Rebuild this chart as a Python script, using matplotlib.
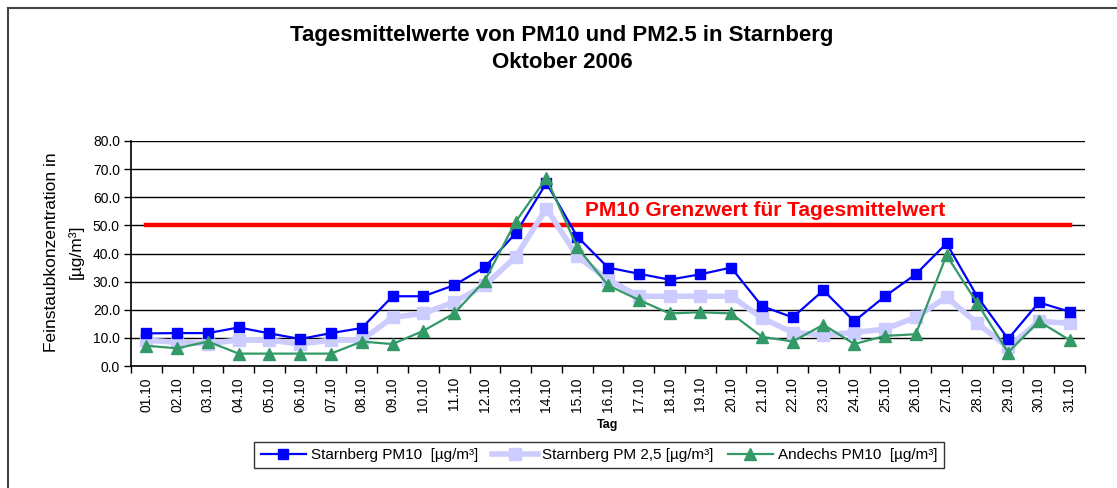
import matplotlib.pyplot as plt
from matplotlib.lines import Line2D
import numpy as np

plt.rcParams['font.family'] = ['Liberation Sans', 'DejaVu Sans']

# Daten
tage = ['%02d.10' % d for d in range(1, 32)]

starnberg_pm10 = [11.6, 11.7, 11.7, 13.7, 11.6, 9.6, 11.7, 13.5, 24.8, 24.8, 28.7,
                  35.2, 47.2, 65.1, 46.0, 35.0, 32.8, 30.7, 32.6, 35.0, 21.3, 17.3,
                  26.9, 15.9, 24.8, 32.6, 43.6, 24.7, 9.6, 22.6, 19.3]
starnberg_pm25 = [9.2, 8.4, 8.0, 9.2, 9.2, 7.8, 9.2, 9.2, 17.3, 18.7, 22.7,
                  28.7, 38.8, 56.0, 39.0, 30.7, 24.8, 24.8, 24.8, 24.8, 17.1, 11.9,
                  11.1, 11.9, 13.1, 17.3, 24.5, 15.2, 6.6, 15.9, 15.2]
andechs_pm10 = [7.2, 6.3, 8.7, 4.4, 4.4, 4.4, 4.4, 8.7, 7.8, 12.5, 18.7,
                30.4, 51.3, 66.8, 42.2, 28.7, 23.5, 18.7, 19.1, 18.7, 10.4, 8.7,
                14.7, 7.8, 10.7, 11.3, 39.4, 22.3, 4.8, 15.9, 9.2]
grenzwert = 50.0

W, H = 1117, 488
fig = plt.figure(figsize=(W / 100, H / 100), dpi=100)
ax = fig.add_axes([131 / W, 1 - 366 / H, (1085 - 131) / W, (366 - 141) / H])

x = np.arange(len(tage))

# Linien
ax.plot(x, [grenzwert] * len(tage), color='#ff0000', lw=3.2, zorder=2)
ax.plot(x, starnberg_pm25, color='#ccccff', lw=4, marker='s', ms=8,
        mfc='#ccccff', mec='#ccccff', zorder=3, label='Starnberg PM 2,5 [µg/m³]')
ax.plot(x, starnberg_pm10, color='#0000ff', lw=1.6, marker='s', ms=7,
        mfc='#0000ff', mec='#0000ff', zorder=4, label='Starnberg PM10  [µg/m³]')
ax.plot(x, andechs_pm10, color='#339966', lw=1.6, marker='^', ms=8.5,
        mfc='#339966', mec='#339966', zorder=5, label='Andechs PM10  [µg/m³]')

ax.text(14.25, 55.3, 'PM10 Grenzwert für Tagesmittelwert', color='#ff0000',
        fontsize=15, fontweight='bold', ha='left', va='center', zorder=6)

# Achsen
ax.set_xlim(-0.5, len(tage) - 0.5)
ax.set_ylim(0, 80)
ax.set_yticks(np.arange(0, 81, 10))
ax.set_yticklabels(['%.1f' % v for v in np.arange(0, 81, 10)], fontsize=10)
ax.set_xticks(x)
ax.set_xticklabels(tage, rotation=90, fontsize=10)
ax.set_xticks(np.arange(-0.5, len(tage), 1), minor=True)
ax.tick_params(axis='x', which='major', length=0, pad=8)
ax.tick_params(axis='x', which='minor', length=5, width=1, direction='out')
ax.tick_params(axis='y', length=5, width=1, direction='out', pad=3)
ax.yaxis.grid(True, color='black', lw=1)
ax.set_axisbelow(True)
for s in ['top', 'right']:
    ax.spines[s].set_visible(False)
ax.spines['left'].set_linewidth(1.2)
ax.spines['bottom'].set_linewidth(1.2)

ax.set_xlabel('Tag', fontsize=9, fontweight='bold', labelpad=5)
fig.text(52 / W, 1 - 252 / H, 'Feinstaubkonzentration in', rotation=90,
         fontsize=12.5, ha='center', va='center')
fig.text(76 / W, 1 - 252 / H, '[µg/m³]', rotation=90,
         fontsize=12.5, ha='center', va='center')

fig.text(562 / W, 1 - 35 / H, 'Tagesmittelwerte von PM10 und PM2.5 in Starnberg',
         fontsize=16, fontweight='bold', ha='center', va='center')
fig.text(562 / W, 1 - 62 / H, 'Oktober 2006',
         fontsize=16, fontweight='bold', ha='center', va='center')

# Legende
h, l = ax.get_legend_handles_labels()
order = [1, 0, 2]
leg = fig.legend([h[i] for i in order], [l[i] for i in order], loc='center',
                 bbox_to_anchor=(599 / W, 1 - 455 / H), ncol=3,
                 frameon=True, fancybox=False, edgecolor='black', handlelength=3,
                 columnspacing=0.9, handletextpad=0.3, borderpad=0.4,
                 prop={'family': 'Liberation Sans', 'size': 11})
leg.get_frame().set_linewidth(1)

# Rahmen
fig.add_artist(Line2D([8 / W, 1], [1 - 8 / H, 1 - 8 / H], color='#444444', lw=1.5,
                      transform=fig.transFigure))
fig.add_artist(Line2D([8 / W, 8 / W], [0, 1 - 8 / H], color='#444444', lw=1.5,
                      transform=fig.transFigure))

fig.savefig('out.png', dpi=100)
